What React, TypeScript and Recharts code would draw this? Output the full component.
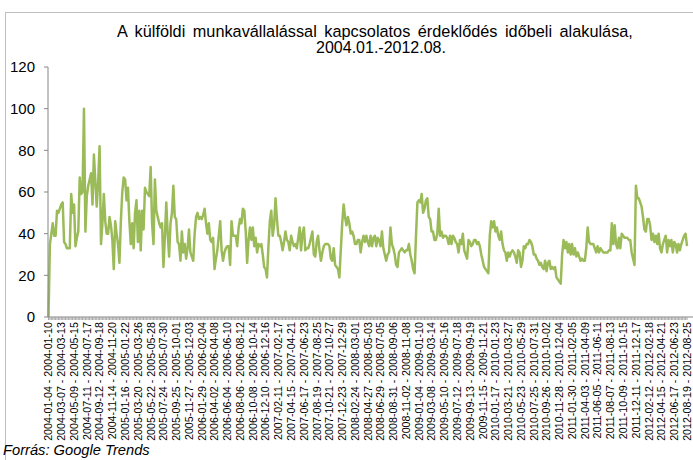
import { LineChart, Line, XAxis, YAxis } from 'recharts';

const FONT = '"Liberation Sans", Arial, sans-serif';

// every 9th week carries a label on the category axis
const TICK_LABELS = [
  '2004-01-04 - 2004-01-10', '2004-03-07 - 2004-03-13', '2004-05-09 - 2004-05-15', '2004-07-11 - 2004-07-17',
  '2004-09-12 - 2004-09-18', '2004-11-14 - 2004-11-20', '2005-01-16 - 2005-01-22', '2005-03-20 - 2005-03-26',
  '2005-05-22 - 2005-05-28', '2005-07-24 - 2005-07-30', '2005-09-25 - 2005-10-01', '2005-11-27 - 2005-12-03',
  '2006-01-29 - 2006-02-04', '2006-04-02 - 2006-04-08', '2006-06-04 - 2006-06-10', '2006-08-06 - 2006-08-12',
  '2006-10-08 - 2006-10-14', '2006-12-10 - 2006-12-16', '2007-02-11 - 2007-02-17', '2007-04-15 - 2007-04-21',
  '2007-06-17 - 2007-06-23', '2007-08-19 - 2007-08-25', '2007-10-21 - 2007-10-27', '2007-12-23 - 2007-12-29',
  '2008-02-24 - 2008-03-01', '2008-04-27 - 2008-05-03', '2008-06-29 - 2008-07-05', '2008-08-31 - 2008-09-06',
  '2008-11-02 - 2008-11-08', '2009-01-04 - 2009-01-10', '2009-03-08 - 2009-03-14', '2009-05-10 - 2009-05-16',
  '2009-07-12 - 2009-07-18', '2009-09-13 - 2009-09-19', '2009-11-15 - 2009-11-21', '2010-01-17 - 2010-01-23',
  '2010-03-21 - 2010-03-27', '2010-05-23 - 2010-05-29', '2010-07-25 - 2010-07-31', '2010-09-26 - 2010-10-02',
  '2010-11-28 - 2010-12-04', '2011-01-30 - 2011-02-05', '2011-04-03 - 2011-04-09', '2011-06-05 - 2011-06-11',
  '2011-08-07 - 2011-08-13', '2011-10-09 - 2011-10-15', '2011-12-11 - 2011-12-17', '2012-02-12 - 2012-02-18',
  '2012-04-15 - 2012-04-21', '2012-06-17 - 2012-06-23', '2012-08-19 - 2012-08-25',
];

// weekly Google Trends index, grouped by the year the week starts in
const W2004 = [0, 35, 40, 45, 39, 39, 51, 50, 52, 54, 55, 36, 35, 33, 33, 33, 59, 50, 54, 34, 38, 41, 67, 59, 60, 100, 41, 58, 63, 66, 69, 54, 78, 65, 53, 65, 82, 35, 45, 59, 46, 40, 40, 48, 44, 37, 23, 46, 40, 35, 26, 46];
const W2005 = [60, 67, 66, 56, 62, 46, 35, 45, 33, 50, 56, 36, 51, 32, 51, 42, 62, 60, 59, 58, 72, 45, 35, 66, 51, 48, 45, 43, 45, 24, 38, 55, 40, 29, 45, 50, 63, 48, 47, 36, 35, 27, 41, 31, 35, 28, 33, 42, 31, 29, 27, 40];
const W2006 = [48, 50, 47, 48, 47, 49, 52, 45, 40, 45, 37, 36, 38, 23, 28, 32, 39, 46, 32, 27, 31, 33, 34, 34, 25, 46, 39, 39, 39, 34, 43, 47, 45, 52, 51, 41, 26, 37, 43, 37, 43, 34, 38, 31, 35, 34, 35, 30, 24, 23, 19, 34, 46];
const W2007 = [51, 39, 44, 57, 47, 39, 39, 36, 32, 36, 41, 37, 36, 32, 39, 36, 34, 35, 33, 38, 43, 32, 40, 43, 32, 33, 33, 35, 38, 41, 30, 29, 36, 39, 32, 27, 31, 34, 35, 35, 35, 34, 28, 27, 33, 25, 24, 23, 19, 32, 45, 54];
const W2008 = [48, 44, 48, 45, 40, 41, 39, 35, 35, 37, 37, 31, 36, 39, 36, 39, 36, 34, 39, 34, 38, 39, 34, 38, 37, 34, 41, 33, 30, 27, 30, 31, 43, 35, 33, 30, 25, 24, 31, 32, 33, 32, 31, 32, 32, 35, 30, 27, 23, 21, 39, 55];
const W2009 = [56, 55, 59, 50, 52, 56, 57, 48, 47, 41, 41, 37, 37, 40, 52, 39, 41, 38, 39, 39, 38, 35, 39, 35, 39, 38, 36, 35, 31, 37, 35, 40, 32, 30, 28, 37, 36, 34, 35, 37, 37, 35, 36, 34, 30, 27, 24, 23, 22, 21, 39, 46];
const W2010 = [43, 46, 41, 43, 39, 37, 41, 35, 32, 31, 27, 31, 29, 31, 32, 31, 29, 26, 32, 31, 24, 27, 34, 33, 35, 35, 37, 36, 34, 30, 30, 28, 27, 25, 26, 24, 23, 27, 22, 26, 27, 23, 24, 23, 24, 19, 18, 17, 16, 30, 37, 33];
const W2011 = [36, 31, 35, 30, 35, 30, 33, 29, 31, 29, 27, 28, 27, 27, 33, 43, 36, 35, 35, 35, 33, 31, 34, 31, 33, 32, 31, 31, 31, 31, 32, 32, 45, 35, 44, 35, 33, 38, 33, 40, 39, 38, 38, 38, 37, 37, 31, 28, 25, 63, 57, 57];
const W2012 = [55, 53, 48, 42, 41, 47, 47, 44, 37, 40, 36, 39, 35, 40, 33, 31, 35, 37, 39, 31, 37, 34, 37, 31, 36, 35, 31, 35, 32, 35, 37, 39, 40, 34];

const Y_TICKS = [0, 20, 40, 60, 80, 100, 120];

const data = [...W2004, ...W2005, ...W2006, ...W2007, ...W2008, ...W2009, ...W2010, ...W2011, ...W2012].map((value, week) => ({ week, value }));

function WeekTick({ x, y, payload }: any) {
  const i = payload.value as number;
  if (i % 9 !== 0) return <g />;
  return (
    <text x={x} y={y} dy="0.36em" textAnchor="end" transform={`rotate(-90, ${x}, ${y})`} fontSize={10.7} fontFamily={FONT} fill="#000">
      {TICK_LABELS[i / 9]}
    </text>
  );
}

export default function App() {
  return (
    <div style={{ position: 'absolute', left: 0, top: 0, width: 693, height: 460, background: '#fff', overflow: 'hidden', fontFamily: FONT }}>
      <div style={{ position: 'absolute', left: 5, top: 12, width: 700, height: 460, borderTop: '1px solid #bfbfbf', borderLeft: '1px solid #bfbfbf' }} />
      <div style={{ position: 'absolute', left: 0, top: 22, width: 750, textAlign: 'center', fontSize: 16.3, wordSpacing: 3, lineHeight: '18px', color: '#000', whiteSpace: 'nowrap' }}>
        A külföldi munkavállalással kapcsolatos érdeklődés időbeli alakulása,
      </div>
      <div style={{ position: 'absolute', left: 0, top: 39, width: 762, textAlign: 'center', fontSize: 16, lineHeight: '18px', color: '#000' }}>
        2004.01.-2012.08.
      </div>
      <LineChart width={693} height={460} data={data} margin={{ top: 67, right: 0, left: 0, bottom: 0 }}>
        <XAxis
          dataKey="week"
          type="category"
          height={143}
          interval={0}
          padding={{ left: 0.5, right: 6 }}
          tickSize={3}
          tickMargin={2}
          axisLine={{ stroke: '#868686' }}
          tickLine={{ stroke: '#a6a6a6' }}
          tick={WeekTick}
        />
        <YAxis
          domain={[0, 120]}
          ticks={Y_TICKS}
          interval={0}
          width={48}
          tickSize={4}
          tickMargin={9}
          axisLine={{ stroke: '#868686' }}
          tickLine={{ stroke: '#868686' }}
          tick={{ fontSize: 15, fill: '#000', fontFamily: FONT }}
        />
        <Line type="linear" dataKey="value" stroke="#9bbb59" strokeWidth={2.5} strokeLinejoin="round" dot={false} isAnimationActive={false} />
      </LineChart>
      <div style={{ position: 'absolute', left: 3, top: 442, fontStyle: 'italic', fontSize: 14.7, lineHeight: '17px', color: '#000', whiteSpace: 'nowrap' }}>
        Forrás: Google Trends
      </div>
    </div>
  );
}
